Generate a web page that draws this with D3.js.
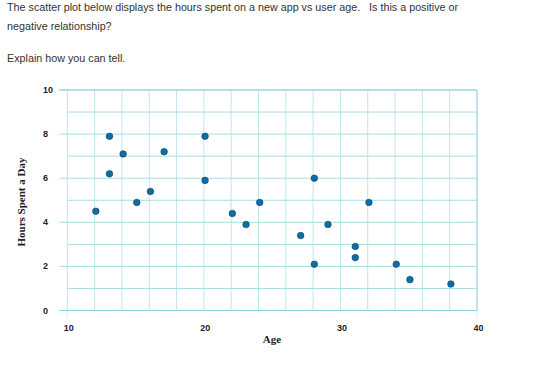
<!DOCTYPE html>
<html><head><meta charset="utf-8">
<script src="https://cdn.jsdelivr.net/npm/d3@7"></script>
<style>
html,body{margin:0;padding:0;background:#fff;}
svg{display:block;}
</style></head>
<body>
<svg id="chart" width="533" height="370"></svg>
<script>
const questionLines = [
  "The scatter plot below displays the hours spent on a new app vs user age.   Is this a positive or",
  "negative relationship?",
  "",
  "Explain how you can tell."
];
const ages  = [12, 13, 13, 14, 15, 16, 17, 20, 20, 22, 23, 24, 27, 28, 28, 29, 31, 31, 32, 34, 35, 38];
const hours = [4.5, 7.9, 6.2, 7.1, 4.9, 5.4, 7.2, 7.9, 5.9, 4.4, 3.9, 4.9, 3.4, 6.0, 2.1, 3.9, 2.9, 2.4, 4.9, 2.1, 1.4, 1.2];
const xTicks = [10, 20, 30, 40];
const yTicks = [0, 2, 4, 6, 8, 10];
const xGrid = d3.range(10, 41, 2);
const yGrid = d3.range(0, 11, 1);
const xTitle = "Age";
const yTitle = "Hours Spent a Day";

const svg = d3.select("#chart");

// question text
const q = svg.append("g").attr("font-family", "Arial, 'Liberation Sans', sans-serif")
  .attr("font-size", 10.75).attr("fill", "#333").style("white-space", "pre");
const lineY = [11, 30, 47, 62];
questionLines.forEach((t, i) => {
  if (t) q.append("text").attr("x", 7).attr("y", lineY[i]).attr("xml:space", "preserve").text(t);
});

const x = d3.scaleLinear().domain([10, 40]).range([67.3, 477]);
const y = d3.scaleLinear().domain([0, 10]).range([310.5, 90]);

const grid = svg.append("g");
grid.selectAll("line.v").data(xGrid).join("line")
  .attr("x1", d => x(d)).attr("x2", d => x(d))
  .attr("y1", y(10)).attr("y2", y(0))
  .attr("stroke", "#bfe6ea").attr("stroke-width", 1);
grid.selectAll("line.h").data(yGrid).join("line")
  .attr("x1", d => (d % 2 === 0 ? x(10) - 8 : x(10))).attr("x2", x(40))
  .attr("y1", d => y(d)).attr("y2", d => y(d))
  .attr("stroke", "#a6dde3").attr("stroke-width", 1);
grid.selectAll("line.xt").data([10, 40]).join("line")
  .attr("x1", d => x(d)).attr("x2", d => x(d))
  .attr("y1", y(0)).attr("y2", y(0) + 8)
  .attr("stroke", "#dff2f4").attr("stroke-width", 1.5);
grid.append("line").attr("x1", x(10) - 8).attr("x2", x(40))
  .attr("y1", y(0)).attr("y2", y(0)).attr("stroke", "#8fd4dc").attr("stroke-width", 1.2);
grid.append("line").attr("x1", x(10) - 8).attr("x2", x(40))
  .attr("y1", y(10)).attr("y2", y(10)).attr("stroke", "#8fd4dc").attr("stroke-width", 1.2);
grid.append("line").attr("x1", x(40)).attr("x2", x(40))
  .attr("y1", y(10)).attr("y2", y(0)).attr("stroke", "#a6dde3").attr("stroke-width", 1.2);

// tick labels
const lab = svg.append("g").attr("font-family", "'Liberation Sans', Arial, sans-serif")
  .attr("font-size", 9).attr("font-weight", "bold").attr("fill", "#222");
lab.selectAll("text.y").data(yTicks).join("text")
  .attr("x", 43).attr("y", d => y(d) + 3).text(d => d);
lab.selectAll("text.x").data(xTicks).join("text")
  .attr("x", d => x(d) + 1.5).attr("y", 331).attr("text-anchor", "middle").text(d => d);

// axis titles
svg.append("text").attr("x", 272).attr("y", 343).attr("text-anchor", "middle")
  .attr("font-family", "'Liberation Serif', 'DejaVu Serif', serif").attr("font-size", 11)
  .attr("font-weight", "bold").attr("fill", "#222").text(xTitle);
svg.append("text").attr("transform", "translate(25,202) rotate(-90)").attr("text-anchor", "middle")
  .attr("font-family", "'Liberation Serif', 'DejaVu Serif', serif").attr("font-size", 11)
  .attr("font-weight", "bold").attr("fill", "#222").text(yTitle);

// points
svg.append("g").selectAll("circle").data(ages.map((a, i) => [a, hours[i]])).join("circle")
  .attr("cx", d => x(d[0]) + 1.2).attr("cy", d => y(d[1])).attr("r", 3.3)
  .attr("fill", "#0a6ea8").attr("stroke", "#1d3d55").attr("stroke-width", 0.6);
</script>
</body></html>
